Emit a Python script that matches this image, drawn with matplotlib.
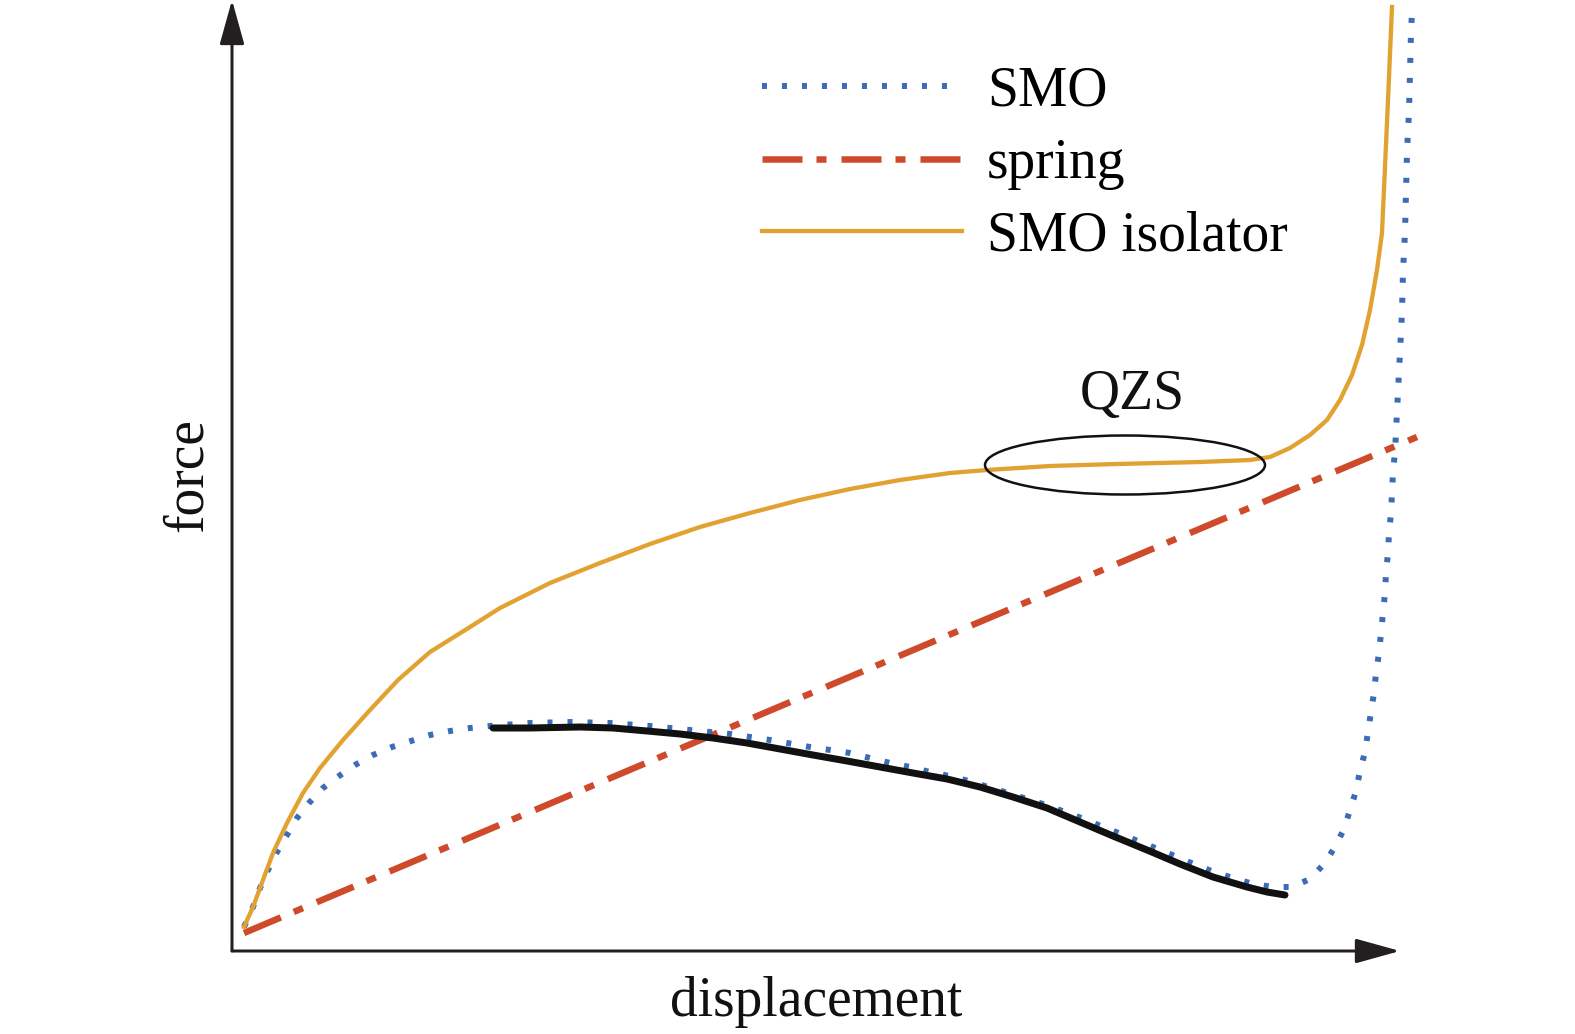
import matplotlib
matplotlib.use("Agg")
import matplotlib.pyplot as plt
from matplotlib.patches import Ellipse

plt.rcParams['font.family'] = ['Liberation Serif', 'DejaVu Serif']
plt.rcParams['lines.scale_dashes'] = False

# ---- data (arbitrary units: displacement, force) ----
smo_x = [12, 21, 28, 36, 45, 55, 65, 77, 91, 107, 123, 141, 160, 179, 198, 218, 238, 258,
         298, 338, 378, 418, 458, 498, 538, 578, 618, 658, 678, 698, 717, 737, 756, 776,
         795, 814, 833, 852, 871, 889, 908, 926, 945, 964, 982, 1001, 1021, 1041, 1060,
         1078, 1092, 1103, 1112, 1118, 1124, 1128, 1133, 1136, 1139, 1142, 1144, 1147,
         1149, 1151, 1153, 1154, 1156, 1157, 1159, 1160, 1161, 1163, 1164, 1166, 1168,
         1170, 1171, 1173, 1174, 1175, 1177, 1178, 1179, 1180]
smo_y = [24, 44, 63, 81, 99, 116, 133, 148, 163, 175, 186, 196, 204, 210, 216, 220, 223, 225,
         228, 229, 228, 225, 221, 217, 211, 204, 198, 188, 184, 179, 175, 170, 164, 158,
         152, 146, 139, 132, 124, 117, 109, 102, 94, 86, 79, 73, 67, 64, 64,
         72, 87, 104, 122, 141, 160, 180, 199, 219, 239, 258, 278, 298,
         318, 338, 358, 378, 398, 418, 438, 458, 479, 499, 519, 559, 599,
         639, 679, 719, 759, 799, 839, 879, 919, 939]

spring_x = [12, 1185]
spring_y = [18, 514]

iso_x = [12, 21, 31, 41, 55, 71, 88, 111, 138, 166, 198, 238, 268, 318, 368, 418, 468, 518,
         568, 618, 668, 718, 755, 818, 885, 968, 1018, 1038, 1058, 1078, 1095, 1108, 1120,
         1130, 1138, 1145, 1150, 1153, 1156, 1160]
iso_y = [24, 44, 71, 98, 128, 158, 183, 211, 241, 271, 299, 324, 343, 368, 388, 407, 424, 438,
         451, 462, 471, 478, 481, 485, 487, 489, 491, 494, 503, 516, 531, 551, 576,
         606, 641, 681, 718, 784, 851, 944]

neg_x = [261, 298, 348, 381, 415, 448, 481, 515, 548, 581, 615, 648, 681, 715, 748, 781,
         815, 848, 881, 915, 948, 981, 1015, 1035, 1053]
neg_y = [223, 223, 224, 223, 220, 217, 213, 208, 202, 196, 190, 184, 178, 172, 164, 154,
         143, 129, 115, 101, 87, 74, 64, 59, 56]

qzs_center = (893, 486)
qzs_size = (280, 59)

labels = ['SMO', 'spring', 'SMO isolator']
xlabel = 'displacement'
ylabel = 'force'

# ---- styles ----
c_blue = '#3A6DB5'
c_red = '#CF4A2A'
c_orange = '#E2A232'
c_black = '#111111'
c_axis = '#231F20'
FS = 40

fig = plt.figure(figsize=(15.75, 10.34), dpi=100)
ax = fig.add_axes([232 / 1575, 83 / 1034, 1168 / 1575, 951 / 1034])
ax.set_xlim(0, 1168)
ax.set_ylim(0, 951)
for s in ax.spines.values():
    s.set_visible(False)
ax.set_xticks([])
ax.set_yticks([])

px = 72 / 100  # points per pixel

l_red, = ax.plot(spring_x, spring_y, color=c_red, lw=6.5 * px, clip_on=False,
                 linestyle=(0, (40 * px, 14 * px, 10 * px, 15 * px)), zorder=2)
l_blue, = ax.plot(smo_x, smo_y, color=c_blue, lw=6 * px, clip_on=False,
                  linestyle=(0, (5 * px, 15 * px)), zorder=3)
l_or, = ax.plot(iso_x, iso_y, color=c_orange, lw=4.3 * px, clip_on=False, zorder=4,
                solid_joinstyle='round')
ax.plot(neg_x, neg_y, color=c_black, lw=7 * px, solid_capstyle='round',
        solid_joinstyle='round', clip_on=False, zorder=5)

ax.add_patch(Ellipse(qzs_center, qzs_size[0], qzs_size[1], fill=False,
                     edgecolor=c_black, lw=2.5 * px, zorder=6))
ax.text(900, 542, 'QZS', fontsize=FS, ha='center', va='baseline', color=c_black)

# axes arrows
arrow_kw = dict(arrowstyle='-|>,head_length=27.4,head_width=7.6', color=c_axis,
                lw=3 * px, shrinkA=0, shrinkB=0, mutation_scale=1)
ax.annotate('', xy=(1, 0), xytext=(0, 0), xycoords='axes fraction',
            textcoords='axes fraction', arrowprops=arrow_kw, annotation_clip=False)
ax.annotate('', xy=(0, 1), xytext=(0, 0), xycoords='axes fraction',
            textcoords='axes fraction', arrowprops=arrow_kw, annotation_clip=False)

ax.text(584, -65, xlabel, fontsize=FS, ha='center', va='baseline', color=c_black)
ax.text(-30, 476, ylabel, fontsize=FS, ha='center', va='baseline', rotation=90,
        rotation_mode='anchor', color=c_black)

leg = ax.legend([l_blue, l_red, l_or], labels, loc='center left',
                bbox_to_anchor=(530, 787), bbox_transform=ax.transData,
                frameon=False, fontsize=FS, handlelength=200 / 55.5,
                handletextpad=25 / 55.5, labelspacing=0.37, borderpad=0,
                borderaxespad=0)

fig.savefig('out.png', dpi=100, facecolor='white')
